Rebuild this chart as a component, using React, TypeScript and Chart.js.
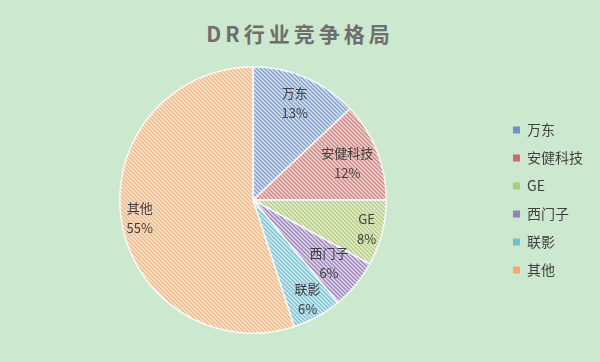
import React, { useEffect, useRef } from "react";
import { Chart, registerables } from "chart.js";

Chart.register(...registerables);

const categories = ["万东", "安健科技", "GE", "西门子", "联影", "其他"];
const shares = [13, 12, 8, 6, 6, 55];
const percentLabels = ["13%", "12%", "8%", "6%", "6%", "55%"];
const stripeColors = ["#86A4D4", "#D98A88", "#B6CF86", "#A08BC4", "#80C6DA", "#F7B987"];
const stripeBgColors = ["#E8EEF8", "#F6E4E3", "#EEF4E0", "#ECE6F3", "#E3F3F8", "#FDEEE0"];
const legendColors = ["#6A93C8", "#CD6B69", "#AFCB7C", "#9480B6", "#6CC0D6", "#F8A869"];
const labelRadiusFactors = [0.79, 0.76, 0.88, 0.74, 0.85, 0.86];

function makeHatch(stripe: string, bg: string): CanvasPattern | string {
  const c = document.createElement("canvas");
  const s = 4;
  c.width = s;
  c.height = s;
  const g = c.getContext("2d");
  if (!g) return stripe;
  g.fillStyle = bg;
  g.fillRect(0, 0, s, s);
  g.strokeStyle = stripe;
  g.lineWidth = 1.6;
  g.beginPath();
  g.moveTo(-1, -1);
  g.lineTo(s + 1, s + 1);
  g.moveTo(-1, s - 1);
  g.lineTo(1, s + 1);
  g.moveTo(s - 1, -1);
  g.lineTo(s + 1, 1);
  g.stroke();
  const p = g.createPattern(c, "repeat");
  return p || stripe;
}

const sliceLabelPlugin = {
  id: "sliceLabels",
  afterDatasetsDraw(chart: any) {
    const ctx = chart.ctx;
    const meta = chart.getDatasetMeta(0);
    ctx.save();
    ctx.fillStyle = "#404040";
    ctx.font = '13px "Noto Sans CJK SC", "Noto Sans", sans-serif';
    ctx.textAlign = "center";
    ctx.textBaseline = "middle";
    meta.data.forEach((arc: any, i: number) => {
      const { startAngle, endAngle, x, y, outerRadius } = arc.getProps(
        ["startAngle", "endAngle", "x", "y", "outerRadius"],
        true
      );
      const mid = (startAngle + endAngle) / 2;
      const f = labelRadiusFactors[i];
      const lx = x + Math.cos(mid) * outerRadius * f;
      const ly = y + Math.sin(mid) * outerRadius * f;
      ctx.fillText(categories[i], lx, ly - 10);
      ctx.fillText(percentLabels[i], lx, ly + 10);
    });
    ctx.restore();
  },
};

export default function App() {
  const ref = useRef<HTMLCanvasElement>(null);
  useEffect(() => {
    if (!ref.current) return;
    const patterns = stripeColors.map((s, i) => makeHatch(s, stripeBgColors[i]));
    const chart = new Chart(ref.current, {
      type: "pie",
      data: {
        labels: categories,
        datasets: [
          {
            data: shares,
            backgroundColor: patterns as any,
            borderColor: "rgba(255,255,255,0.85)",
            borderWidth: 1.5,
          },
        ],
      },
      options: {
        responsive: false,
        animation: false,
        layout: { padding: { left: 7, right: 7, top: 66, bottom: 28 } },
        plugins: {
          title: { display: false },
          tooltip: { enabled: false },
          legend: {
            position: "right",
            labels: {
              boxWidth: 7,
              boxHeight: 7,
              padding: 14,
              color: "#404040",
              font: { size: 14, family: '"Noto Sans CJK SC", "Noto Sans", sans-serif' },
              generateLabels: () =>
                categories.map((c, i) => ({
                  text: c,
                  fillStyle: legendColors[i],
                  strokeStyle: legendColors[i],
                  lineWidth: 0,
                  hidden: false,
                  index: i,
                  datasetIndex: 0,
                  fontColor: "#404040",
                })),
            },
          },
        },
      },
      plugins: [sliceLabelPlugin],
    });
    return () => chart.destroy();
  }, []);
  return (
    <div
      style={{
        position: "fixed",
        left: 0,
        top: 0,
        width: 600,
        height: 362,
        background: "#CCE8CF",
        overflow: "hidden",
      }}
    >
      <div
        style={{
          position: "absolute",
          left: 0,
          top: 17,
          width: 600,
          textAlign: "center",
          fontFamily: '"Noto Sans CJK SC", "Noto Sans", sans-serif',
          fontSize: 21,
          fontWeight: 700,
          letterSpacing: 4,
          color: "#6E6E6E",
          lineHeight: "32px",
        }}
      >
        DR行业竞争格局
      </div>
      <canvas ref={ref} width={600} height={362} style={{ position: "absolute", left: 0, top: 0 }} />
    </div>
  );
}
